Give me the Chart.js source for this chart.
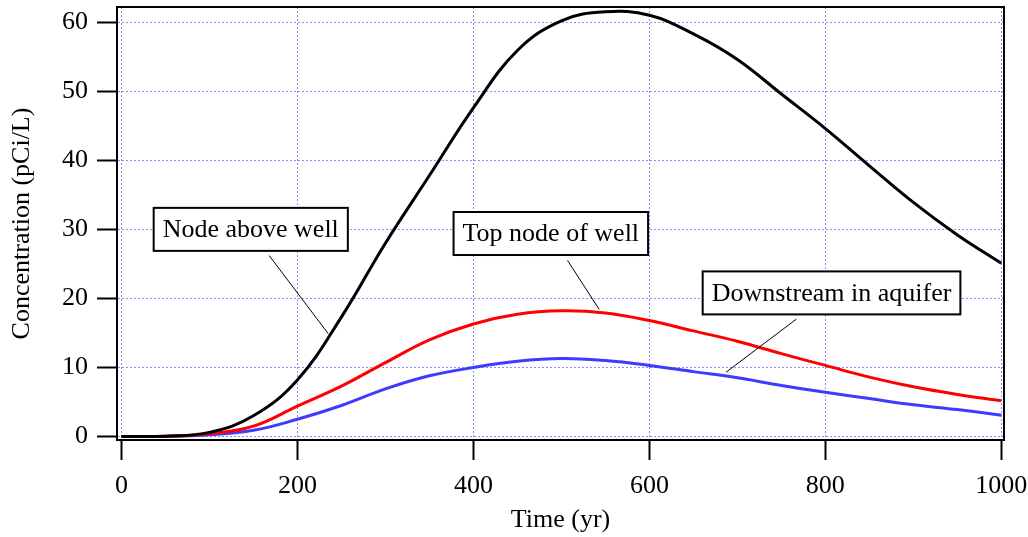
<!DOCTYPE html>
<html>
<head>
<meta charset="utf-8">
<script src="https://cdn.jsdelivr.net/npm/chart.js@4/dist/chart.umd.min.js"></script>
<style>
  html, body { margin: 0; padding: 0; background: #fff; }
</style>
</head>
<body>
<canvas id="chart" width="1028" height="537"></canvas>
<script>
// time (yr)
const years = [0, 50, 100, 150, 200, 250, 300, 350, 400, 450, 500, 550, 600, 650, 700, 750, 800, 850, 900, 950, 1000];
// concentration (pCi/L)
const nodeAboveWell = [0, 0.05, 0.6, 3.0, 8.2, 17.3, 28.0, 37.8, 47.6, 55.9, 60.2, 61.5, 61.0, 58.3, 54.6, 49.6, 44.6, 39.2, 33.9, 29.2, 25.1];
const topNodeOfWell = [0, 0.03, 0.4, 1.5, 4.4, 7.3, 10.7, 14.0, 16.3, 17.7, 18.2, 17.9, 16.8, 15.3, 13.8, 12.0, 10.3, 8.6, 7.2, 6.1, 5.2];
const downstreamInAquifer = [0, 0.02, 0.25, 0.9, 2.5, 4.5, 6.9, 8.8, 10.0, 10.9, 11.3, 11.0, 10.3, 9.4, 8.5, 7.4, 6.4, 5.5, 4.6, 3.9, 3.1];
const xTicks = [0, 200, 400, 600, 800, 1000];
const yTicks = [0, 10, 20, 30, 40, 50, 60];

// callout labels: box centre and leader line, in data units
const callouts = [
    { text: 'Node above well', box: [147, 30.0], from: [168, 26.2], to: [235, 14.9] },
    { text: 'Top node of well', box: [488, 29.4], from: [507, 25.5], to: [543, 18.4] },
    { text: 'Downstream in aquifer', box: [807, 20.8], from: [767, 17.0], to: [687, 9.3] }
];

const serif = "'Liberation Serif', 'Times New Roman', serif";
Chart.defaults.font.family = serif;
Chart.defaults.color = '#000';

function toPoints(values) {
    return years.map((x, i) => ({ x: x, y: values[i] }));
}

const frame = {
    id: 'frame',
    afterDraw(chart) {
        const ctx = chart.ctx;
        const a = chart.chartArea;
        const sx = chart.scales.x, sy = chart.scales.y;
        ctx.save();
        ctx.strokeStyle = '#000';
        ctx.lineWidth = 2;
        ctx.beginPath();
        ctx.moveTo(a.left, a.top);
        ctx.lineTo(a.right, a.top);
        ctx.lineTo(a.right, a.bottom);
        ctx.stroke();
        // callouts
        ctx.font = '26px ' + serif;
        ctx.textAlign = 'center';
        ctx.textBaseline = 'middle';
        callouts.forEach(c => {
            ctx.lineWidth = 1;
            ctx.beginPath();
            ctx.moveTo(sx.getPixelForValue(c.from[0]), sy.getPixelForValue(c.from[1]));
            ctx.lineTo(sx.getPixelForValue(c.to[0]), sy.getPixelForValue(c.to[1]));
            ctx.stroke();
            const cx = sx.getPixelForValue(c.box[0]);
            const cy = sy.getPixelForValue(c.box[1]);
            const w = ctx.measureText(c.text).width + 18;
            const h = 43;
            ctx.fillStyle = '#fff';
            ctx.fillRect(cx - w / 2, cy - h / 2, w, h);
            ctx.lineWidth = 2;
            ctx.strokeRect(cx - w / 2, cy - h / 2, w, h);
            ctx.fillStyle = '#000';
            ctx.fillText(c.text, cx, cy + 1);
        });
        ctx.restore();
    }
};

const gridColor = '#8c8cff';

new Chart(document.getElementById('chart'), {
    type: 'line',
    data: {
        datasets: [{
            label: 'Node above well',
            data: toPoints(nodeAboveWell),
            borderColor: '#000',
            borderWidth: 3
        }, {
            label: 'Top node of well',
            data: toPoints(topNodeOfWell),
            borderColor: '#ff0000',
            borderWidth: 3
        }, {
            label: 'Downstream in aquifer',
            data: toPoints(downstreamInAquifer),
            borderColor: '#3c3cff',
            borderWidth: 3
        }]
    },
    options: {
        responsive: false,
        animation: false,
        layout: { padding: { left: 0, right: 24, top: 7, bottom: 0 } },
        elements: {
            point: { radius: 0 },
            line: { tension: 0.4, fill: false }
        },
        plugins: {
            legend: { display: false },
            tooltip: { enabled: false }
        },
        scales: {
            x: {
                type: 'linear',
                min: -5,
                max: 1003,
                afterBuildTicks: s => { s.ticks = xTicks.map(v => ({ value: v })); },
                afterFit: s => { s.height = 97; s.paddingLeft = 0; s.paddingRight = 0; },
                ticks: { font: { size: 26 }, padding: 11, maxRotation: 0, callback: v => String(v) },
                grid: { color: gridColor, lineWidth: 1, tickColor: '#000', tickWidth: 2, tickLength: 20 },
                border: { display: true, color: '#000', width: 2, dash: [2, 2] },
                title: { display: true, text: 'Time (yr)', font: { size: 26 }, padding: { top: 0, bottom: 1 } }
            },
            y: {
                type: 'linear',
                min: -0.5,
                max: 62.2,
                afterBuildTicks: s => { s.ticks = yTicks.map(v => ({ value: v })); },
                afterFit: s => { s.width = 117; s.paddingTop = 0; s.paddingBottom = 0; },
                ticks: { font: { size: 26 }, padding: 9, callback: v => String(v) },
                grid: { color: gridColor, lineWidth: 1, tickColor: '#000', tickWidth: 2, tickLength: 20 },
                border: { display: true, color: '#000', width: 2, dash: [2, 2] },
                title: { display: true, text: 'Concentration (pCi/L)', font: { size: 26 }, padding: { top: 7, bottom: 0 } }
            }
        }
    },
    plugins: [frame]
});
</script>
</body>
</html>
